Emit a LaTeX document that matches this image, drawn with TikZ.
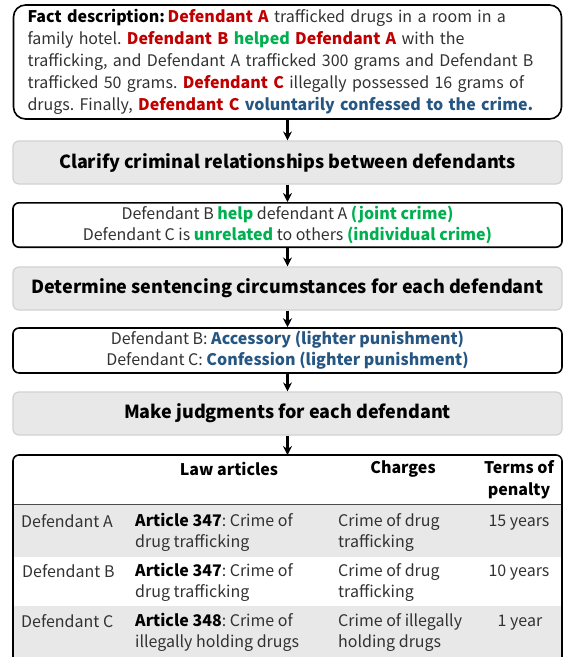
\documentclass[tikz,border=0pt]{standalone}
\usepackage{fontspec}
\setmainfont{Noto Sans CJK SC}
\usepackage{xcolor}
\usepackage{tikz}
\usetikzlibrary{arrows.meta}
\definecolor{crimered}{RGB}{192, 0, 0}
\definecolor{helpgreen}{RGB}{0, 176, 80}
\definecolor{notblue}{RGB}{38, 86, 130}
\definecolor{stepgray}{RGB}{232, 232, 232}
\definecolor{textgray}{RGB}{50, 50, 50}
\newcommand{\crim}[1]{\textbf{\color{crimered}#1}}
\newcommand{\grn}[1]{\textbf{\color{helpgreen}#1}}
\newcommand{\blu}[1]{\textbf{\color{notblue}#1}}
\frenchspacing

\begin{document}
\begin{tikzpicture}[x=1pt, y=-1pt,
    factbox/.style={draw, line width=1.6pt, rounded corners=12pt, minimum width=548pt, minimum height=114pt,
        text width=520pt, align=left, text=textgray, font=\fontsize{16}{22}\selectfont},
    stepbox/.style={draw=black!18, line width=1.2pt, fill=stepgray, rounded corners=6pt, minimum width=549pt,
        minimum height=43pt, font=\fontsize{18}{22}\selectfont\bfseries},
    notebox/.style={draw, line width=1.6pt, rounded corners=6pt, minimum width=549pt, align=center,
        text=textgray, font=\fontsize{16}{21}\selectfont},
    cell/.style={text=textgray, align=left, inner sep=0pt, font=\fontsize{16}{21}\selectfont},
    head/.style={align=center, inner sep=0pt, font=\fontsize{16}{22}\selectfont\bfseries},
    flow/.style={line width=2.4pt, -{Stealth[length=9pt, width=9pt]}}]
    \useasboundingbox (0,0) rectangle (564,657);
    \clip (0,0) rectangle (564,657);

    % Fact description
    \node[factbox] (fact) at (287.5,62) {\textbf{\color{black}Fact description:}\,\crim{Defendant A} trafficked drugs in a room in a\\
        family hotel. \crim{Defendant B} \grn{helped} \crim{Defendant A} with the\\
        trafficking, and Defendant A trafficked 300 grams and Defendant B\\
        trafficked 50 grams. \crim{Defendant C} illegally possessed 16 grams of\\
        drugs. Finally, \crim{Defendant C} \blu{voluntarily confessed to the crime.}};

    % Steps and their results
    \node[stepbox] (clarify) at (287.5,162.5) {Clarify criminal relationships between defendants};
    \node[notebox, minimum height=44pt] (relation) at (287.5,225) {Defendant B \grn{help} defendant A \grn{(joint crime)}\\
        Defendant C is \grn{unrelated} to others \grn{(individual crime)}};
    \node[stepbox] (determine) at (287.5,288.5) {Determine sentencing circumstances for each defendant};
    \node[notebox, minimum height=41pt] (circum) at (287.5,350.5) {Defendant B: \blu{Accessory (lighter punishment)}\\
        Defendant C: \blu{Confession (lighter punishment)}};
    \node[stepbox] (judge) at (287.5,413.5) {Make judgments for each defendant};
    \coordinate (tabtop) at (287.5,455);

    \draw[flow] (fact) -- (clarify);
    \draw[flow] (clarify) -- (relation);
    \draw[flow] (relation) -- (determine);
    \draw[flow] (determine) -- (circum);
    \draw[flow] (circum) -- (judge);
    \draw[flow] (judge) -- (tabtop);

    % Judgment table
    \fill[stepgray] (13,504) rectangle (562,557);
    \fill[stepgray] (13,606) rectangle (562,670);
    \draw[black!70] (13,504) -- (562,504);
    \draw[line width=1.6pt, rounded corners=6pt] (13,680) -- (13,455) -- (562,455) -- (562,680);

    \node[head] (hlaw) at (229,469) {Law articles};
    \node[head] (hchg) at (403,469) {Charges};
    \node[head] (hterm) at (519,480) {Terms of\\penalty};

    \node[cell, anchor=west] (defA) at (21,521) {Defendant A};
    \node[cell, anchor=north west] (lawA) at (135,513) {\textbf{\color{black}Article 347}: Crime of\\drug trafficking};
    \node[cell, anchor=north west] (chgA) at (338,513) {Crime of drug\\trafficking};
    \node[cell, anchor=base] (termA) at (519,526) {15 years};

    \node[cell, anchor=west] (defB) at (22,571) {Defendant B};
    \node[cell, anchor=north west] (lawB) at (135,563) {\textbf{\color{black}Article 347}: Crime of\\drug trafficking};
    \node[cell, anchor=north west] (chgB) at (338,563) {Crime of drug\\trafficking};
    \node[cell, anchor=base] (termB) at (519,576) {10 years};

    \node[cell, anchor=west] (defC) at (21,621) {Defendant C};
    \node[cell, anchor=north west] (lawC) at (135,613) {\textbf{\color{black}Article 348}: Crime of\\illegally holding drugs};
    \node[cell, anchor=north west] (chgC) at (338,613) {Crime of illegally\\holding drugs};
    \node[cell, anchor=base] (termC) at (520,626) {1 year};
\end{tikzpicture}
\end{document}
